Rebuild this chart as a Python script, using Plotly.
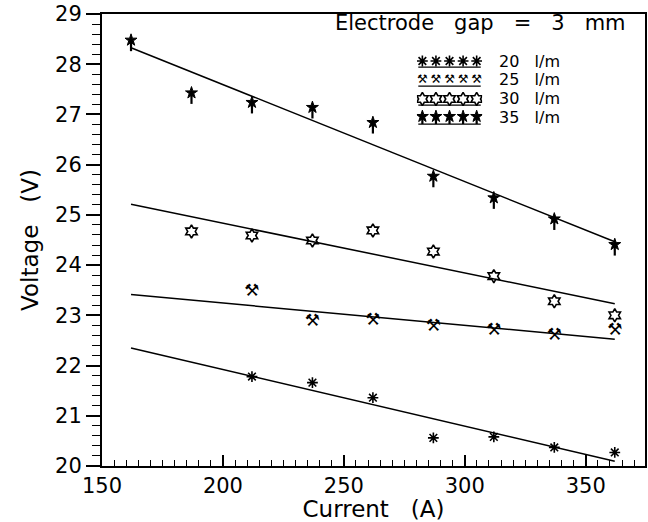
import numpy as np
import plotly.graph_objects as go

# ---- data ----
x20 = [212, 237, 262, 287, 312, 337, 362]
y20 = [21.78, 21.66, 21.36, 20.56, 20.58, 20.37, 20.27]
x25 = [212, 237, 262, 287, 312, 337, 362]
y25 = [23.47, 22.88, 22.90, 22.78, 22.69, 22.60, 22.69]
x30 = [187, 212, 237, 262, 287, 312, 337, 362]
y30 = [24.67, 24.59, 24.49, 24.69, 24.27, 23.78, 23.28, 23.00]
x35 = [162, 187, 212, 237, 262, 287, 312, 337, 362]
y35 = [28.48, 27.43, 27.24, 27.14, 26.84, 25.77, 25.34, 24.92, 24.41]
series_labels = ["20", "25", "30", "35"]
SP = "\u00a0\u00a0\u00a0"
title_text = "Electrode" + SP + "gap" + SP + "=" + SP + "3" + SP + "mm"

FONT = "DejaVu Sans"
BLACK = "black"

fit_x = np.array([min(x35 + x30 + x25 + x20), max(x35 + x30 + x25 + x20)], dtype=float)

fig = go.Figure()

def fit_line(xs, ys):
    c = np.polyfit(xs, ys, 1)
    return go.Scatter(x=fit_x, y=np.polyval(c, fit_x), mode="lines",
                      line=dict(color=BLACK, width=1.5), showlegend=False,
                      hoverinfo="skip")

for xs, ys in [(x20, y20), (x25, y25), (x30, y30), (x35, y35)]:
    fig.add_trace(fit_line(xs, ys))

def style_20(**kw):
    return dict(mode="markers", marker=dict(symbol="asterisk-open", size=9,
                color=BLACK, line=dict(color=BLACK, width=1.6)), **kw)

def style_25(fs, **kw):
    return dict(mode="text", textfont=dict(family="DejaVu Sans", size=fs, color=BLACK),
                textposition="middle center", **kw)

def style_30(**kw):
    return dict(mode="markers", marker=dict(symbol="hexagram-open", size=10,
                color=BLACK, line=dict(color=BLACK, width=1.6)), **kw)

def style_35(stem, down=True, **kw):
    n = len(kw["x"])
    err = dict(type="data", symmetric=False, width=0, thickness=2.2, color=BLACK)
    if down:
        err.update(array=[0] * n, arrayminus=[stem] * n)
    else:
        err.update(array=[stem] * n, arrayminus=[0] * n)
    return dict(mode="markers", marker=dict(symbol="star", size=9, color=BLACK,
                line=dict(color=BLACK, width=1)), error_y=err, **kw)

fig.add_trace(go.Scatter(showlegend=False, **style_20(x=x20, y=y20)))
fig.add_trace(go.Scatter(showlegend=False, text=["\u2692"] * len(x25),
                         **style_25(17, x=x25, y=y25)))
fig.add_trace(go.Scatter(showlegend=False, **style_30(x=x30, y=y30)))
fig.add_trace(go.Scatter(showlegend=False, **style_35(0.22, True, x=x35, y=y35)))

# ---- legend keys on an overlay axis ----
kx = list(range(5))
for i in range(4):
    fig.add_trace(go.Scatter(x=[-0.3, 4.3], y=[i + 0.32] * 2, mode="lines",
                             line=dict(color=BLACK, width=1.2), xaxis="x2", yaxis="y2",
                             showlegend=False, hoverinfo="skip"))
fig.add_trace(go.Scatter(showlegend=False, xaxis="x2", yaxis="y2",
                         **style_20(x=kx, y=[0] * 5)))
fig.add_trace(go.Scatter(showlegend=False, xaxis="x2", yaxis="y2", text=["\u2692"] * 5,
                         **style_25(12, x=kx, y=[1] * 5)))
fig.add_trace(go.Scatter(showlegend=False, xaxis="x2", yaxis="y2",
                         **style_30(x=kx, y=[2] * 5)))
fig.add_trace(go.Scatter(showlegend=False, xaxis="x2", yaxis="y2",
                         **style_35(0.4, False, x=kx, y=[2.92] * 5)))

annotations = [dict(text=title_text, xref="paper", yref="paper", x=0.969, y=0.98,
                    xanchor="right", yanchor="middle", showarrow=False,
                    font=dict(family=FONT, size=21, color=BLACK))]
for i, lab in enumerate(series_labels):
    annotations.append(dict(text=lab + SP + "l/m", xref="paper", yref="y2",
                            x=0.728, y=i, xanchor="left", yanchor="middle",
                            showarrow=False, font=dict(family=FONT, size=16, color=BLACK)))

axis_common = dict(showgrid=False, zeroline=False, showline=True, linecolor=BLACK,
                   linewidth=2, mirror=True, tickcolor=BLACK, tickwidth=1.5,
                   automargin=False,
                   tickfont=dict(family=FONT, size=21, color=BLACK))

fig.update_layout(
    width=648, height=522,
    margin=dict(l=102, r=3, t=14, b=56),
    paper_bgcolor="white", plot_bgcolor="white",
    showlegend=False,
    annotations=annotations,
    xaxis=dict(range=[150, 374.5], dtick=50, tick0=150, ticks="inside", ticklen=11,
               minor=dict(dtick=5, tick0=150, ticks="inside", ticklen=6, tickwidth=1.2,
                          tickcolor=BLACK),
               title=dict(text="Current" + SP + "(A)", standoff=2,
                          font=dict(family=FONT, size=23, color=BLACK)),
               **axis_common),
    yaxis=dict(range=[20, 29], dtick=1, tick0=20, ticks="outside", ticklen=14,
               minor=dict(dtick=0.2, tick0=20, ticks="outside", ticklen=8, tickwidth=1.2,
                          tickcolor=BLACK),
               title=dict(text="Voltage" + SP + "(V)", standoff=10,
                          font=dict(family=FONT, size=23, color=BLACK)),
               **axis_common),
    xaxis2=dict(domain=[0.58, 0.70], range=[-0.4, 4.4], visible=False, anchor="y2"),
    yaxis2=dict(domain=[0.749, 0.917], range=[3.5, -0.5], visible=False, anchor="x2"),
)

fig.write_html("out.html")
